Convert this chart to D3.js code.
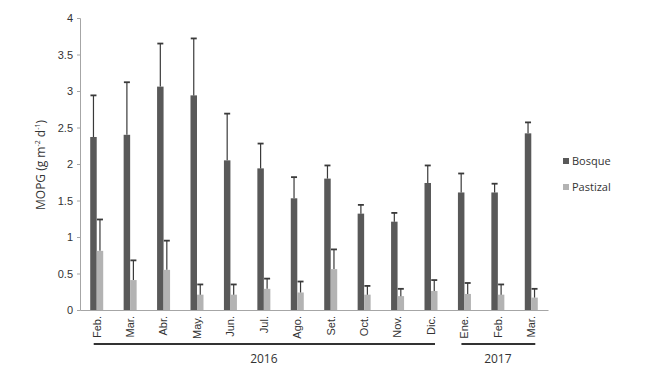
<!DOCTYPE html>
<html>
<head>
<meta charset="utf-8">
<script src="https://cdn.jsdelivr.net/npm/d3@7"></script>
<style>
  body { margin: 0; background: #fff; }
  svg { font-family: "Open Sans", "Noto Sans", sans-serif; }
</style>
</head>
<body>
<div id="chart"></div>
<script>
// Data
const months = ['Feb.', 'Mar.', 'Abr.', 'May.', 'Jun.', 'Jul.', 'Ago.', 'Set.', 'Oct.', 'Nov.', 'Dic.', 'Ene.', 'Feb.', 'Mar.']
const series = ['Bosque', 'Pastizal']
const bosque = [2.37, 2.40, 3.06, 2.94, 2.05, 1.94, 1.53, 1.80, 1.32, 1.21, 1.74, 1.61, 1.61, 2.42]
const bosqueErr = [0.57, 0.72, 0.59, 0.78, 0.64, 0.34, 0.29, 0.18, 0.12, 0.12, 0.24, 0.26, 0.12, 0.15]
const pastizal = [0.81, 0.41, 0.55, 0.21, 0.21, 0.29, 0.24, 0.56, 0.21, 0.19, 0.26, 0.22, 0.21, 0.17]
const pastizalErr = [0.43, 0.27, 0.40, 0.14, 0.14, 0.14, 0.15, 0.27, 0.12, 0.10, 0.15, 0.15, 0.14, 0.12]
const years = ['2016', '2017']
const yearStart = [0, 11]
const yearEnd = [10, 13]
const yTicks = [0, 0.5, 1, 1.5, 2, 2.5, 3, 3.5, 4]

const colors = { Bosque: '#595959', Pastizal: '#b3b3b3' }

function draw(el) {
  let dimensions = { width: 650, height: 380 }
  let margin = { left: 80, right: 102, top: 18, bottom: 70 }
  let barW = 6.5

  const svg = d3.select(el)
    .append('svg')
    .attr('width', dimensions.width)
    .attr('height', dimensions.height)

  // scales
  const x = d3.scaleBand()
    .domain(months.map((d, i) => i))
    .range([margin.left, dimensions.width - margin.right])

  const xs = d3.scaleBand()
    .domain(series)
    .range([x.bandwidth() / 2 - barW, x.bandwidth() / 2 + barW])

  const y = d3.scaleLinear()
    .domain([0, 4])
    .range([dimensions.height - margin.bottom, margin.top])

  const rows = months.map((m, i) => ({
    i,
    vals: [
      { key: 'Bosque', v: bosque[i], e: bosqueErr[i] },
      { key: 'Pastizal', v: pastizal[i], e: pastizalErr[i] },
    ]
  }))

  // y axis
  const yAxis = svg.append('g')
    .attr('transform', `translate(${margin.left},0)`)
    .call(d3.axisLeft(y).tickValues(yTicks).tickSize(3).tickPadding(4).tickFormat(d3.format('')))
  yAxis.select('.domain').attr('stroke', '#a6a6a6')
  yAxis.selectAll('.tick line').attr('stroke', '#a6a6a6')
  yAxis.selectAll('.tick text').attr('fill', '#333').attr('font-size', 11)

  // bars
  const groups = svg.append('g')
    .selectAll('g')
    .data(rows)
    .join('g')
    .attr('transform', d => `translate(${x(d.i)},0)`)

  groups.selectAll('rect')
    .data(d => d.vals)
    .join('rect')
    .attr('x', d => xs(d.key))
    .attr('width', xs.bandwidth())
    .attr('y', d => y(d.v))
    .attr('height', d => y(0) - y(d.v))
    .attr('fill', d => colors[d.key])

  // error bars
  const err = groups.selectAll('g.err')
    .data(d => d.vals)
    .join('g')
    .attr('class', 'err')
    .attr('stroke', '#3a3a3a')
    .attr('stroke-width', 1.2)

  err.append('line')
    .attr('x1', d => xs(d.key) + xs.bandwidth() / 2)
    .attr('x2', d => xs(d.key) + xs.bandwidth() / 2)
    .attr('y1', d => y(d.v))
    .attr('y2', d => y(d.v + d.e))

  err.append('line')
    .attr('stroke-width', 1.8)
    .attr('x1', d => xs(d.key) + xs.bandwidth() / 2 - 3)
    .attr('x2', d => xs(d.key) + xs.bandwidth() / 2 + 3)
    .attr('y1', d => y(d.v + d.e))
    .attr('y2', d => y(d.v + d.e))

  // x axis
  const xAxis = svg.append('g')
    .attr('transform', `translate(0,${y(0)})`)
    .call(d3.axisBottom(x).tickSize(0).tickFormat(i => months[i]))
  xAxis.select('.domain').attr('stroke', '#a6a6a6').attr('stroke-width', 1.2)
  xAxis.selectAll('.tick text')
    .attr('fill', '#333')
    .attr('font-size', 11)
    .attr('transform', 'rotate(-90)')
    .attr('text-anchor', 'end')
    .attr('x', -6)
    .attr('y', 0)
    .attr('dy', '0.35em')

  // year brackets
  const yr = svg.append('g')
    .selectAll('g')
    .data(years)
    .join('g')

  yr.append('line')
    .attr('x1', (d, k) => x(yearStart[k]) + x.bandwidth() / 2 - 3)
    .attr('x2', (d, k) => x(yearEnd[k]) + x.bandwidth() / 2 + 4)
    .attr('y1', 344)
    .attr('y2', 344)
    .attr('stroke', '#333')
    .attr('stroke-width', 2)

  yr.append('text')
    .attr('x', (d, k) => (x(yearStart[k]) + x(yearEnd[k]) + x.bandwidth()) / 2)
    .attr('y', 363)
    .attr('text-anchor', 'middle')
    .attr('font-size', 12)
    .attr('fill', '#333')
    .text(d => d)

  // y title
  const title = svg.append('text')
    .attr('transform', 'translate(45,165) rotate(-90)')
    .attr('text-anchor', 'middle')
    .attr('font-size', 12)
    .attr('fill', '#333')
  title.append('tspan').text('MOPG (g m')
  title.append('tspan').attr('font-size', 7).attr('dy', -5).text('-2')
  title.append('tspan').attr('dy', 5).text(' d')
  title.append('tspan').attr('font-size', 7).attr('dy', -5).text('-1')
  title.append('tspan').attr('dy', 5).text(')')

  // legend
  const legend = svg.append('g')
    .selectAll('g')
    .data(series)
    .join('g')
    .attr('transform', (d, i) => `translate(563,${161 + i * 26})`)

  legend.append('rect')
    .attr('x', 0)
    .attr('y', -3)
    .attr('width', 6)
    .attr('height', 6)
    .attr('fill', d => colors[d])

  legend.append('text')
    .attr('x', 9)
    .attr('dy', '0.35em')
    .attr('font-size', 11)
    .attr('fill', '#333')
    .text(d => d)
}

draw('#chart')
</script>
</body>
</html>
